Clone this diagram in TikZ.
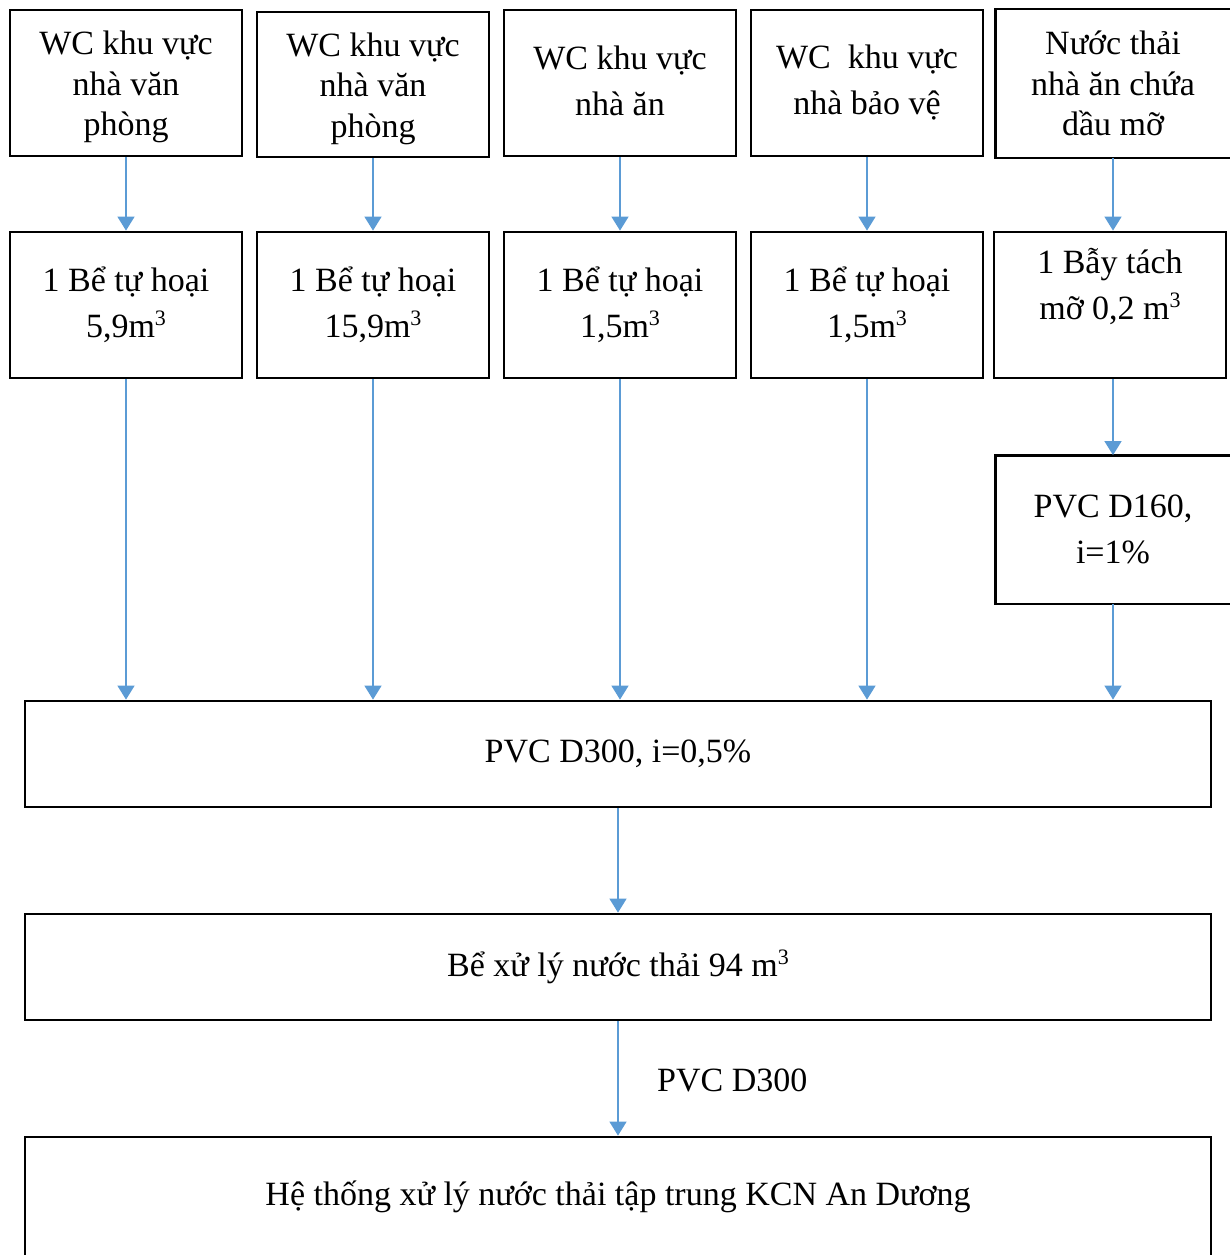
\documentclass[tikz,border=0pt]{standalone}
\usepackage{fontspec}
\setmainfont{Liberation Serif}
\usetikzlibrary{arrows.meta,calc}
\definecolor{flowblue}{HTML}{5B9BD5}
% raised small "3" for cubic metres
\newcommand{\cubed}{\raisebox{12pt}{\fontsize{22}{22}\selectfont 3}}
% invisible rules that push a node's text down (top) or up (bottom)
\newcommand{\padtop}[1]{\rule{0pt}{#1}}
\newcommand{\padbot}[1]{\rule[-#1]{0pt}{1pt}}
\begin{document}
\begin{tikzpicture}[x=1pt,y=-1pt,
  font=\fontsize{34}{46}\selectfont,
  frame/.style={draw=black, line width=2.8pt},
  box/.style={frame, minimum width=232pt, minimum height=146pt, inner sep=0pt, align=center},
  wide/.style={frame, minimum width=1186pt, minimum height=106pt, inner sep=0pt, align=center},
  tight/.style={font=\fontsize{34}{40.5}\selectfont},
  flow/.style={draw=flowblue, line width=1.5pt, -{Triangle[width=17pt,length=14pt]}}]

\useasboundingbox (0,0) rectangle (1229,1255);

% sources
\node[box, tight] (t1) at (126,83) {\padtop{32pt}WC khu vực\\nhà văn\\phòng};
\node[box, tight, minimum height=145pt] (t2) at (373,84.5) {\padtop{32pt}WC khu vực\\nhà văn\\phòng};
\node[box] (t3) at (620,83) {WC khu vực\\nhà ăn\padbot{4pt}};
\node[box] (t4) at (867,83) {WC\ \ khu vực\\nhà bảo vệ};
\node[box, tight, draw=none] (t5) at (1113,83.5) {Nước thải\\nhà ăn chứa\\dầu mỡ};
\draw[frame] (t5.north west) rectangle ($(t5.south east)+(20,0)$);

% pre-treatment tanks
\node[box] (r1) at (126,305) {1 Bể tự hoại\\5,9m\cubed};
\node[box] (r2) at (373,305) {1 Bể tự hoại\\15,9m\cubed};
\node[box] (r3) at (620,305) {1 Bể tự hoại\\1,5m\cubed};
\node[box] (r4) at (867,305) {1 Bể tự hoại\\1,5m\cubed};
\node[box] (r5) at (1110,305) {1 Bẫy tách\\mỡ 0,2 m\cubed\padbot{43pt}};

% grease line pipe
\node[box, draw=none] (pvc) at (1113,529.5) {PVC D160,\\i=1\%};
\draw[frame] (pvc.north west) rectangle ($(pvc.south east)+(20,0)$);

% collection and treatment
\node[wide] (m1) at (618,754) {PVC D300, i=0,5\%};
\node[wide] (m2) at (618,967) {Bể xử lý nước thải 94 m\cubed};
\node[wide, minimum height=120pt] (m3) at (618,1197) {Hệ thống xử lý nước thải tập trung KCN An Dương};
\node[anchor=west, inner sep=0pt] (pipe) at (657,1080) {PVC D300};

% flows
\foreach \i in {1,...,4} {
  \draw[flow] (t\i.south) -- (t\i.south |- r\i.north);
  \draw[flow] (r\i.south) -- (r\i.south |- m1.north);
}
\draw[flow] (t5.south) -- (t5.south |- r5.north);
\draw[flow] (pvc |- r5.south) -- (pvc.north);
\draw[flow] (pvc.south) -- (pvc.south |- m1.north);
\draw[flow] (m1.south) -- (m2.north);
\draw[flow] (m2.south) -- (m3.north);
\end{tikzpicture}
\end{document}
